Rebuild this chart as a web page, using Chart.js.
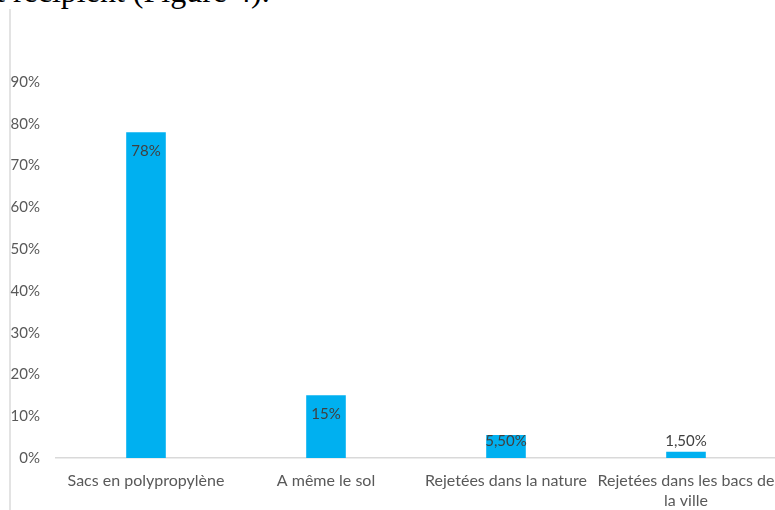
<!DOCTYPE html>
<html>
<head>
<meta charset="utf-8">
<script src="https://cdn.jsdelivr.net/npm/chart.js@4/dist/chart.umd.min.js"></script>
<style>
  html, body { margin: 0; padding: 0; background: #fff; overflow: hidden; }
  #wrap { position: relative; width: 775px; height: 510px; overflow: hidden; }
  #caption {
    position: absolute; left: -4px; top: -27px;
    font-family: "Liberation Serif", "DejaVu Serif", serif;
    font-size: 32px; color: #000; white-space: nowrap;
  }
  #edge {
    position: absolute; left: 9px; top: 9px; width: 2px; height: 510px;
    background: #e3e3e3;
  }
  #box { position: absolute; left: 0; top: 0; width: 800px; height: 510px; }
</style>
</head>
<body>
<div id="wrap">
  <div id="caption">t récipient (Figure 4).</div>
  <div id="edge"></div>
  <div id="box"><canvas id="chart" width="800" height="510"></canvas></div>
</div>
<script>
const categories = [
  'Sacs en polypropylène',
  'A même le sol',
  'Rejetées dans la nature',
  ['Rejetées dans les bacs de', 'la ville']
];
const values = [78, 15, 5.5, 1.5];
const valueLabels = ['78%', '15%', '5,50%', '1,50%'];
const yTicks = [0, 10, 20, 30, 40, 50, 60, 70, 80, 90];

const labelFont = '"Lato", "Open Sans", sans-serif';

// value labels sit inside the top of the bar, or just above the axis for short bars
const barLabels = {
  id: 'barLabels',
  afterDatasetsDraw(chart) {
    const ctx = chart.ctx;
    const meta = chart.getDatasetMeta(0);
    const base = chart.scales.y.getPixelForValue(0);
    ctx.save();
    ctx.font = '15px ' + labelFont;
    ctx.fillStyle = '#404040';
    ctx.textAlign = 'center';
    ctx.textBaseline = 'middle';
    meta.data.forEach((bar, i) => {
      const y = Math.min(bar.y + 19, base - 17);
      ctx.fillText(valueLabels[i], bar.x, y);
    });
    ctx.restore();
  }
};

new Chart(document.getElementById('chart'), {
  type: 'bar',
  data: {
    labels: categories,
    datasets: [{
      data: values,
      backgroundColor: '#00B0F0',
      borderWidth: 0,
      categoryPercentage: 1,
      barPercentage: 0.22
    }]
  },
  options: {
    responsive: false,
    animation: false,
    layout: { padding: { top: 82, right: 24, left: 0, bottom: 0 } },
    plugins: { legend: { display: false }, tooltip: { enabled: false } },
    scales: {
      y: {
        min: 0,
        max: 90,
        afterBuildTicks(scale) { scale.ticks = yTicks.map(v => ({ value: v })); },
        afterFit(scale) { scale.width = 56; },
        grid: { display: false, drawTicks: false },
        border: { display: false },
        ticks: {
          padding: 16,
          color: '#595959',
          font: { family: labelFont, size: 15 },
          callback: v => v + '%'
        }
      },
      x: {
        afterFit(scale) { scale.height = 52; },
        grid: { display: false, drawTicks: false },
        border: { display: true, color: '#d9d9d9', width: 1.5 },
        ticks: {
          padding: 12,
          maxRotation: 0,
          autoSkip: false,
          color: '#595959',
          font: { family: labelFont, size: 16, lineHeight: 1.3 }
        }
      }
    }
  },
  plugins: [barLabels]
});
</script>
</body>
</html>
